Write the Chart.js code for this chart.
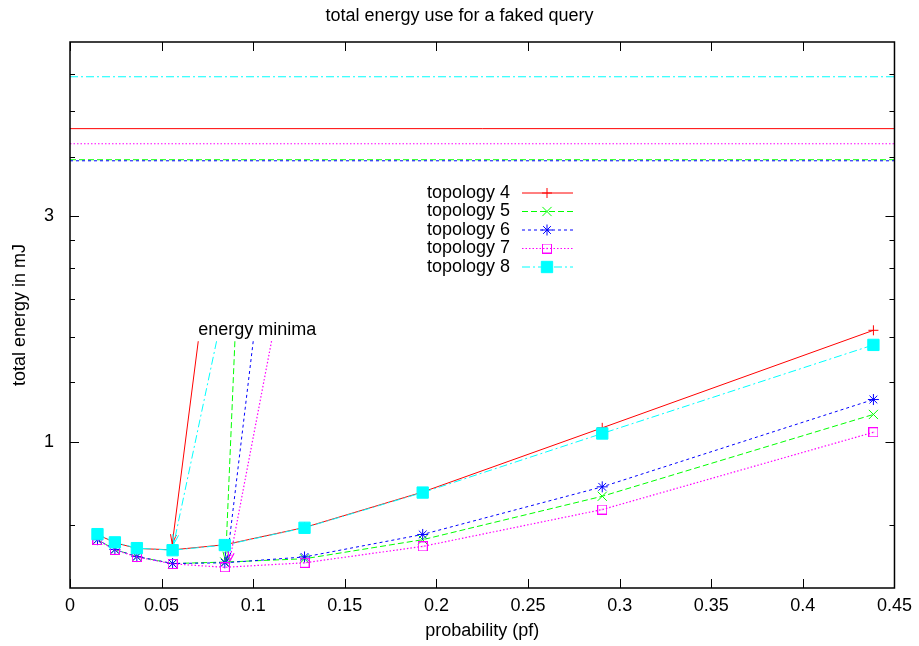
<!DOCTYPE html>
<html><head><meta charset="utf-8">
<script src="https://cdn.jsdelivr.net/npm/chart.js@4.4.1/dist/chart.umd.min.js"></script>
<style>html,body{margin:0;padding:0;background:#fff}canvas{display:block}</style>
</head><body>
<canvas id="c" width="919" height="646"></canvas>
<script>
// ---------------- data ----------------
const probabilities = [0.015, 0.0245, 0.0365, 0.056, 0.0845, 0.128, 0.1925, 0.2905, 0.4385];
const topology4 = [0.636, 0.611, 0.594, 0.590, 0.605, 0.658, 0.782, 1.069, 1.719];
const topology5 = [0.620, 0.591, 0.571, 0.552, 0.556, 0.565, 0.620, 0.766, 1.141];
const topology6 = [0.620, 0.591, 0.571, 0.552, 0.554, 0.570, 0.636, 0.802, 1.227];
const topology7 = [0.619, 0.590, 0.570, 0.551, 0.542, 0.554, 0.600, 0.718, 1.046];
const topology8 = [0.637, 0.612, 0.595, 0.589, 0.604, 0.657, 0.780, 1.040, 1.601];
const seriesNames = ['topology 4', 'topology 5', 'topology 6', 'topology 7', 'topology 8'];
// constant reference levels (one per topology, same order)
const referenceLevels = [4.59, 3.945, 3.925, 4.265, 5.91];
const xRange = [0, 0.45];
const yRange = [0.49, 7];
const xTickValues = [0, 0.05, 0.1, 0.15, 0.2, 0.25, 0.3, 0.35, 0.4, 0.45];
const xTickLabels = ['0', '0.05', '0.1', '0.15', '0.2', '0.25', '0.3', '0.35', '0.4', '0.45'];
const yTickValues = [1, 3];
const yTickLabels = ['1', '3'];
const yMinorTickValues = [2/3, 4/3, 5/3, 2, 7/3, 8/3, 4, 5, 6];
// "energy minima" arrows (data coordinates), one per topology (same order)
const arrowLabel = 'energy minima';
const arrowLabelPos = [0.07, 1.72];
const arrowStartX = [0.07, 0.09, 0.10, 0.11, 0.08];
const arrowStartY = [1.63, 1.63, 1.63, 1.63, 1.63];
const arrowEndX = [0.0558, 0.0849, 0.0856, 0.087, 0.0566];
const arrowEndY = [0.607, 0.558, 0.557, 0.556, 0.607];
const titleText = 'total energy use for a faked query';
const xTitle = 'probability (pf)';
const yTitle = 'total energy in mJ';

// ---------------- styles ----------------
const FONT = "'Liberation Sans', Arial, Helvetica, sans-serif";
const FS = 18;
Chart.defaults.font.family = FONT;
Chart.defaults.color = '#000';

function openSquare() {
  const c = document.createElement('canvas');
  c.width = 10; c.height = 10;
  const g = c.getContext('2d');
  g.strokeStyle = '#ff00ff'; g.lineWidth = 1;
  g.strokeRect(0.5, 0.5, 9, 9);
  g.fillStyle = '#ff00ff';
  g.fillRect(4.5, 4.5, 1, 1);
  return c;
}
const styles = [
  {color: '#ff0000', dash: [], pointStyle: 'cross', radius: 5, fill: '#ff0000', width: 1},
  {color: '#00ff00', dash: [6, 3], pointStyle: 'crossRot', radius: 6.5, fill: '#00ff00', width: 1},
  {color: '#0000ff', dash: [3, 3], pointStyle: 'star', radius: 5.5, fill: '#0000ff', width: 1},
  {color: '#ff00ff', dash: [1.5, 2], pointStyle: openSquare(), radius: 5, fill: 'rgba(0,0,0,0)', width: 1.2},
  {color: '#00ffff', dash: [8, 3, 2, 3], pointStyle: 'rect', radius: 8, fill: '#00ffff', width: 1}
];
const seriesValues = [topology4, topology5, topology6, topology7, topology8];

const datasets = [];
seriesValues.forEach((vals, i) => {
  const s = styles[i];
  datasets.push({
    label: seriesNames[i],
    data: probabilities.map((p, j) => ({x: p, y: vals[j]})),
    showLine: true,
    borderColor: s.color,
    backgroundColor: s.fill,
    borderWidth: s.width,
    borderDash: s.dash,
    pointStyle: s.pointStyle,
    pointRadius: s.radius,
    pointBorderColor: s.color,
    pointBackgroundColor: s.fill,
    pointBorderWidth: 1,
    tension: 0,
    order: 5 - i
  });
});
referenceLevels.forEach((v, i) => {
  const s = styles[i];
  datasets.push({
    label: seriesNames[i] + ' level',
    data: [{x: xRange[0], y: v}, {x: xRange[1], y: v}],
    showLine: true,
    borderColor: s.color,
    borderWidth: s.width,
    borderDash: s.dash,
    pointRadius: 0,
    tension: 0,
    order: 10 + (5 - i)
  });
});

// ---------------- plugins ----------------
const arrowPlugin = {
  id: 'arrows',
  beforeDatasetsDraw(chart) {
    const {ctx, scales: {x, y}} = chart;
    ctx.save();
    arrowStartX.forEach((sx, i) => {
      const s = styles[i];
      const x0 = x.getPixelForValue(sx), y0 = y.getPixelForValue(arrowStartY[i]);
      const x1 = x.getPixelForValue(arrowEndX[i]), y1 = y.getPixelForValue(arrowEndY[i]);
      ctx.strokeStyle = s.color; ctx.lineWidth = s.width;
      ctx.setLineDash(s.dash);
      ctx.beginPath(); ctx.moveTo(x0, y0); ctx.lineTo(x1, y1); ctx.stroke();
      ctx.setLineDash([]);
      const ang = Math.atan2(y1 - y0, x1 - x0);
      const L = 10, spread = 0.3;
      ctx.beginPath();
      ctx.moveTo(x1 - L * Math.cos(ang - spread), y1 - L * Math.sin(ang - spread));
      ctx.lineTo(x1, y1);
      ctx.lineTo(x1 - L * Math.cos(ang + spread), y1 - L * Math.sin(ang + spread));
      ctx.stroke();
    });
    ctx.fillStyle = '#000';
    ctx.font = FS + 'px ' + FONT;
    ctx.textAlign = 'left'; ctx.textBaseline = 'middle';
    ctx.fillText(arrowLabel, x.getPixelForValue(arrowLabelPos[0]), y.getPixelForValue(arrowLabelPos[1]));
    ctx.restore();
  }
};

const framePlugin = {
  id: 'frame',
  afterDatasetsDraw(chart) {
    const {ctx, chartArea: a, scales: {x, y}} = chart;
    ctx.save();
    ctx.setLineDash([]);
    ctx.strokeStyle = '#000';
    ctx.lineWidth = 1;
    ctx.beginPath();
    xTickValues.forEach(v => {
      const px = Math.round(x.getPixelForValue(v)) + 0.5;
      ctx.moveTo(px, a.bottom); ctx.lineTo(px, a.bottom - 9);
      ctx.moveTo(px, a.top); ctx.lineTo(px, a.top + 9);
    });
    yTickValues.forEach(v => {
      const py = Math.round(y.getPixelForValue(v)) + 0.5;
      ctx.moveTo(a.left, py); ctx.lineTo(a.left + 9, py);
      ctx.moveTo(a.right, py); ctx.lineTo(a.right - 9, py);
    });
    yMinorTickValues.forEach(v => {
      const py = Math.round(y.getPixelForValue(v)) + 0.5;
      ctx.moveTo(a.left, py); ctx.lineTo(a.left + 5, py);
      ctx.moveTo(a.right, py); ctx.lineTo(a.right - 5, py);
    });
    ctx.stroke();
    ctx.lineWidth = 1.5;
    ctx.strokeRect(a.left, a.top, a.right - a.left, a.bottom - a.top);
    ctx.restore();
  }
};

const keyPlugin = {
  id: 'key',
  afterDatasetsDraw(chart) {
    const {ctx, chartArea: a} = chart;
    ctx.save();
    ctx.font = FS + 'px ' + FONT;
    ctx.textAlign = 'right'; ctx.textBaseline = 'middle';
    seriesNames.forEach((name, i) => {
      const s = styles[i];
      const yy = a.top + 151 + i * 18.5;
      ctx.fillStyle = '#000';
      ctx.fillText(name, a.left + 440, yy);
      ctx.strokeStyle = s.color; ctx.lineWidth = s.width;
      ctx.setLineDash(s.dash);
      ctx.beginPath(); ctx.moveTo(a.left + 452, yy); ctx.lineTo(a.left + 503, yy); ctx.stroke();
      ctx.setLineDash([]);
      ctx.lineWidth = 1;
      ctx.fillStyle = s.fill; ctx.strokeStyle = s.color;
      Chart.helpers.drawPoint(ctx, {pointStyle: s.pointStyle, radius: s.radius, rotation: 0, borderWidth: 1}, a.left + 477, yy);
    });
    ctx.restore();
  }
};

new Chart(document.getElementById('c'), {
  type: 'scatter',
  data: {datasets},
  options: {
    responsive: false,
    animation: false,
    events: [],
    devicePixelRatio: 1,
    layout: {padding: 0},
    plugins: {
      legend: {display: false},
      tooltip: {enabled: false},
      title: {display: true, text: titleText, color: '#000',
              font: {size: FS, weight: 'normal'}, padding: {top: 5, bottom: 15.4}}
    },
    scales: {
      x: {
        type: 'linear', min: xRange[0], max: xRange[1],
        grid: {display: false, drawTicks: false},
        border: {display: false},
        afterBuildTicks: s => { s.ticks = xTickValues.map(v => ({value: v})); },
        afterFit: s => { s.height = 58; },
        ticks: {
          autoSkip: false, maxRotation: 0, padding: 7, color: '#000',
          font: {size: FS},
          callback: (v, i) => xTickLabels[i]
        },
        title: {display: true, text: xTitle, color: '#000', font: {size: FS}, padding: {top: 0, bottom: 4}}
      },
      y: {
        type: 'logarithmic', min: yRange[0], max: yRange[1],
        grid: {display: false, drawTicks: false},
        border: {display: false},
        afterBuildTicks: s => { s.ticks = yTickValues.map(v => ({value: v})); },
        afterFit: s => { s.width = 70; },
        ticks: {
          autoSkip: false, padding: 16, color: '#000',
          font: {size: FS},
          callback: (v, i) => yTickLabels[i]
        },
        title: {display: true, text: yTitle, color: '#000', font: {size: FS}, padding: {top: 9, bottom: 0}}
      },
      yRight: {
        type: 'linear', position: 'right', display: true,
        grid: {display: false, drawTicks: false},
        border: {display: false},
        ticks: {display: false},
        afterFit: s => { s.width = 22; }
      }
    }
  },
  plugins: [arrowPlugin, framePlugin, keyPlugin]
});
</script>
</body></html>
